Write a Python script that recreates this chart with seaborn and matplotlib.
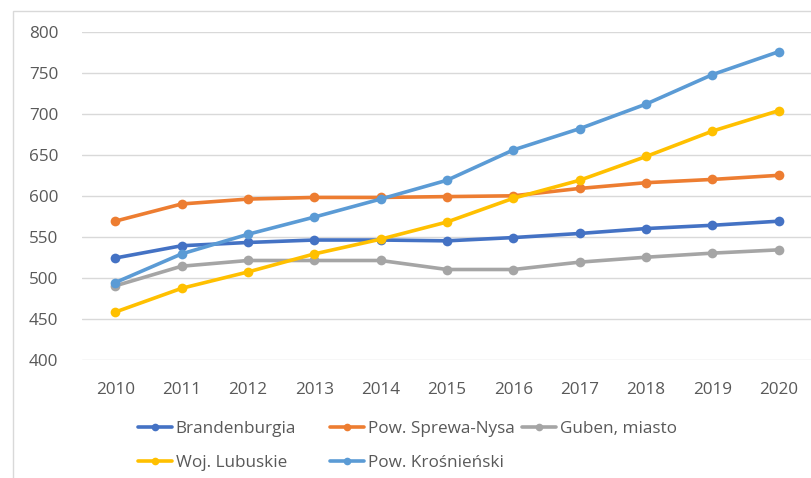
import numpy as np
import pandas as pd
import matplotlib
matplotlib.use("Agg")
import matplotlib.pyplot as plt
import seaborn as sns
from matplotlib.lines import Line2D
from matplotlib.patches import Rectangle

# data
years = [2010, 2011, 2012, 2013, 2014, 2015, 2016, 2017, 2018, 2019, 2020]
brandenburgia = [524, 539, 543, 546, 546, 545, 549, 554, 560, 564, 569]
sprewa_nysa = [569, 590, 596, 598, 598, 599, 600, 609, 616, 620, 625]
guben = [490, 514, 521, 521, 521, 510, 510, 519, 525, 530, 534]
lubuskie = [458, 487, 507, 529, 547, 568, 597, 619, 648, 679, 704]
krosnienski = [494, 529, 553, 574, 596, 619, 656, 682, 712, 748, 776]

names = ["Brandenburgia", "Pow. Sprewa-Nysa", "Guben, miasto",
         "Woj. Lubuskie", "Pow. Krośnieński"]
colors = ["#4472C4", "#ED7D31", "#A5A5A5", "#FFC000", "#5B9BD5"]
y_ticks = [400, 450, 500, 550, 600, 650, 700, 750, 800]

series = [brandenburgia, sprewa_nysa, guben, lubuskie, krosnienski]
df = pd.concat([pd.DataFrame({"year": years, "value": v, "name": n})
                for n, v in zip(names, series)], ignore_index=True)

sns.set_style("white")
plt.rcParams["font.family"] = ["Open Sans", "DejaVu Sans"]
txt = "#595959"
fs = 12.3

W, H = 811, 478
fig = plt.figure(figsize=(W / 100, H / 100), dpi=100)

# chart area border
fig.patches.append(Rectangle((12.5 / W, -0.1), 1.2, 1.1 - 11 / H,
                             transform=fig.transFigure, fill=False,
                             edgecolor="#d9d9d9", lw=1))

ax = fig.add_axes([82 / W, 118 / H, 730 / W, 328 / H])
sns.lineplot(data=df, x="year", y="value", hue="name", hue_order=names,
             palette=colors, marker="o", markersize=7, markeredgewidth=0,
             linewidth=2.6, legend=False, ax=ax)

ax.set_xlim(2009.5, 2020.5)
ax.set_ylim(399.5, 800)
ax.set_xticks(years)
ax.set_yticks(y_ticks)
ax.grid(axis="y", color="#d9d9d9", lw=1)
ax.set_axisbelow(True)
for s in ax.spines.values():
    s.set_visible(False)
ax.tick_params(axis="both", length=0, labelsize=fs, labelcolor=txt)
ax.tick_params(axis="y", pad=17)
ax.tick_params(axis="x", pad=16)
ax.set_xlabel("")
ax.set_ylabel("")

# legend: Excel uses fixed column widths, so one small legend per column
cols = [[0, 3], [1, 4], [2]]
col_x = [138, 330, 522]
for idx, x0 in zip(cols, col_x):
    handles = [Line2D([], [], color=colors[i], lw=2.6, marker="o",
                      markersize=5.5, markeredgewidth=0) for i in idx]
    leg = fig.legend(handles, [names[i] for i in idx], loc="upper left",
                     bbox_to_anchor=(x0 / W, 1 - 421 / H), frameon=False,
                     fontsize=fs, labelcolor=txt, handlelength=2.0,
                     handletextpad=0.2, labelspacing=1.07,
                     borderaxespad=0, borderpad=0)

fig.savefig("out.png", dpi=100)
